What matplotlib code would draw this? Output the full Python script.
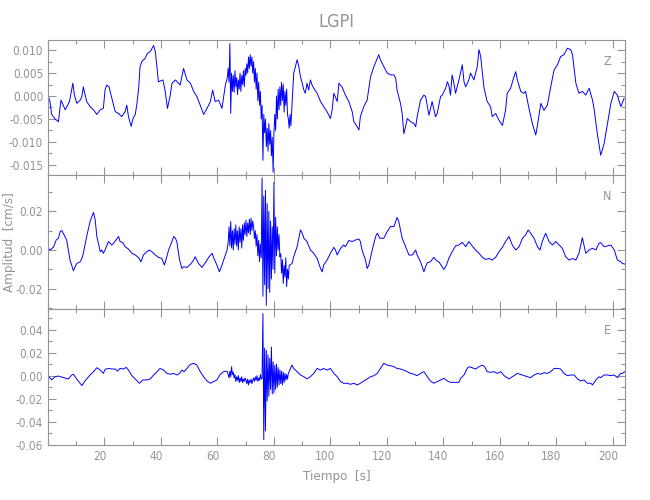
import numpy as np
import matplotlib
matplotlib.use('Agg')
import matplotlib.pyplot as plt
from matplotlib.ticker import MultipleLocator, FormatStrFormatter
from matplotlib.transforms import ScaledTranslation

plt.rcParams['font.family'] = ['DejaVu Sans']
plt.rcParams['font.stretch'] = 'condensed'
plt.rcParams['axes.unicode_minus'] = False

GREY = '#949494'
BURST_DT = 0.3

# ---------------------------------------------------------------- Z component
z_t = [0.0, 0.7, 1.3, 2.5, 3.7, 4.3, 4.6, 6.1, 7.6, 8.8, 9.35, 10.2, 11.4, 12.0, 12.5,
       13.7, 14.9, 16.1, 17.3, 18.5, 19.6, 20.2, 20.8, 21.6, 22.6, 23.8, 25.0, 26.1,
       27.3, 27.9, 28.5, 29.45, 30.1, 30.9, 31.5, 32.1, 32.6, 33.2, 34.4, 35.2, 36.2,
       37.4, 38.0, 38.5, 39.1, 40.7, 41.5, 42.3, 43.3, 43.9, 45.1, 46.8, 48.0, 49.2,
       50.4, 51.6, 52.7, 53.9, 55.1, 56.3, 57.5, 58.3, 59.2, 60.4, 61.6, 62.2, 62.8,
       86.6, 87.0, 87.6, 88.2, 88.8, 89.4, 90.0, 90.6, 91.1, 91.7, 92.3, 92.9, 93.5,
       94.1, 95.3, 96.5, 97.6, 98.8, 100.0, 100.6, 101.2, 102.4, 103.0, 104.1, 105.3,
       106.5, 107.7, 108.3, 109.5, 110.1, 110.6, 111.8, 113.0, 114.2, 115.4, 116.6,
       117.1, 117.7, 118.9, 120.1, 121.3, 122.5, 123.1, 123.6, 124.8, 125.4, 126.0,
       126.6, 127.2, 128.4, 129.6, 130.2, 130.7, 131.9, 133.1, 133.7, 134.9, 136.0,
       137.2, 137.8, 139.0, 139.6, 140.8, 141.4, 141.9, 142.5, 143.1, 143.7, 144.3,
       145.5, 146.7, 147.3, 147.9, 149.0, 149.6, 150.8, 151.4, 152.0, 152.6, 153.2,
       153.8, 154.4, 155.5, 156.7, 157.3, 158.5, 159.7, 160.9, 162.0, 162.6, 163.8,
       165.0, 165.6, 166.2, 167.4, 168.5, 169.1, 170.3, 171.5, 172.7, 173.3, 174.5,
       175.6, 176.8, 178.0, 179.2, 180.4, 181.5, 182.7, 183.9, 185.1, 185.7, 186.9,
       188.0, 189.2, 190.4, 191.6, 192.8, 193.4, 194.5, 195.7, 196.9, 198.1, 199.3,
       200.5, 201.6, 202.8, 204.0]
z_v = [0.0002, -0.0012, -0.004, -0.005, -0.0056, -0.0023, -0.0009, -0.003, -0.0012,
       0.0028, 0.0002, -0.0016, -0.0009, -0.0001, 0.002, -0.0012, -0.0023, -0.003,
       -0.004, -0.003, -0.0027, 0.0013, 0.0024, 0.002, -0.0005, -0.0034, -0.0038,
       -0.0045, -0.0034, -0.002, -0.0045, -0.0066, -0.0049, -0.004, -0.0016, 0.0017,
       0.0064, 0.0075, 0.0082, 0.0093, 0.0097, 0.011, 0.0097, 0.0068, 0.0031, 0.0035,
       0.001, -0.0027, 0.0002, 0.0028, 0.0035, 0.0024, 0.006, 0.0035, 0.0028, 0.001,
       -0.0001, -0.002, -0.004, -0.0027, -0.0012, 0.0013, -0.0012, -0.0009, -0.0027,
       -0.0001, 0.0024,
       0.0006, 0.005, 0.0064, 0.0079, 0.0064, 0.0042, 0.0028, 0.0013, 0.0006, 0.0028,
       0.0013, 0.0035, 0.0024, 0.0017, 0.0006, -0.0012, -0.0023, -0.0034, -0.0049,
       -0.0031, 0.0006, -0.0012, 0.0028, 0.002, 0.0002, -0.0012, -0.0034, -0.0056,
       -0.0067, -0.0074, -0.0045, -0.0023, -0.0009, 0.0042, 0.0064, 0.0082, 0.009,
       0.0079, 0.0064, 0.005, 0.0046, 0.0046, 0.0039, 0.0013, -0.0016, -0.0038,
       -0.0082, -0.0067, -0.0049, -0.0056, -0.006, -0.0067, -0.0045, -0.0009, 0.0002,
       -0.0001, -0.0042, -0.0012, -0.0045, -0.0038, -0.0001, 0.0002, 0.0017, 0.0031,
       0.0024, 0.0002, 0.0046, 0.0028, 0.0006, 0.0035, 0.0068, 0.0031, 0.002, 0.0035,
       0.005, 0.0035, 0.005, 0.0064, 0.0101, 0.0086, 0.005, 0.0017, -0.0012, -0.0023,
       -0.0045, -0.0038, -0.0053, -0.0064, -0.0031, 0.0006, 0.0017, 0.0042, 0.0053,
       0.0035, 0.001, 0.0006, 0.001, -0.0027, -0.006, -0.0085, -0.0064, -0.0016,
       -0.0031, -0.002, 0.002, 0.0057, 0.0068, 0.0086, 0.009, 0.0104, 0.0101, 0.009,
       0.0028, 0.0006, 0.001, 0.0002, 0.0017, -0.0009, -0.003, -0.0082, -0.0129,
       -0.0104, -0.006, -0.0016, 0.001, 0.0002, -0.0023, -0.0005]
z_burst_t0 = 63.5
z_burst = [0.004, 0.006, 0.003, 0.0114, -0.0038,
           0.005, 0.001, 0.0045, 0.0008, 0.0055, 0.002, 0.004, 0.0003, 0.0035, 0.0015,
           0.005, 0.001, 0.0045, 0.0025, 0.0055, 0.002, 0.006,
           0.0045, 0.007, 0.005, 0.0085, 0.006, 0.009, 0.0065, 0.0085, 0.005, 0.0075,
           0.003, 0.006, 0.0015, 0.005, -0.001, 0.003,
           -0.002, 0.001, -0.005, -0.002, -0.014, -0.004,
           -0.008, -0.005, -0.011, -0.007, -0.012, -0.006, -0.0105, -0.0075, -0.013,
           -0.009, -0.0166, -0.008,
           -0.004, -0.0075, 0.0, -0.005, 0.0015, -0.003,
           0.002, -0.002, 0.003, -0.001, 0.0025, -0.0035, 0.001, -0.002, 0.0015, -0.004,
           -0.005, -0.007, -0.004, -0.0065, -0.003]

# ---------------------------------------------------------------- N component
n_t = [0.0, 0.7, 1.9, 2.9, 3.7, 4.3, 4.9, 6.0, 6.6, 7.2, 7.8, 9.0, 9.6, 10.2, 11.4,
       12.0, 12.5, 13.7, 14.9, 16.1, 16.7, 17.3, 18.5, 19.0, 19.6, 20.2, 21.4, 22.0,
       22.6, 23.2, 24.1, 25.0, 25.5, 26.5, 27.3, 28.5, 29.7, 30.9, 32.0, 32.9, 33.8,
       35.0, 35.9, 36.8, 38.0, 39.1, 40.3, 41.2, 41.9, 42.7, 43.9, 44.5, 45.1, 45.6,
       46.6, 47.4, 48.0, 49.2, 50.4, 51.6, 52.1, 53.3, 54.5, 55.7, 56.9, 58.1, 58.6,
       59.8, 60.7, 61.6, 62.2, 62.8, 63.4,
       86.4, 87.0, 88.2, 89.4, 90.0, 90.6, 91.7, 92.9, 94.1, 95.3, 96.5, 97.1, 97.6,
       98.8, 100.0, 101.2, 101.8, 102.4, 103.6, 104.7, 105.3, 106.5, 107.7, 108.9,
       110.1, 110.6, 111.2, 112.4, 113.0, 113.6, 114.8, 116.0, 116.6, 117.5, 118.9,
       120.1, 121.3, 122.5, 123.6, 124.2, 125.4, 126.6, 127.8, 129.0, 130.2, 130.7,
       131.9, 132.5, 133.1, 133.7, 134.3, 135.4, 136.6, 137.6, 138.4, 139.6, 140.2,
       141.1, 141.9, 143.1, 144.3, 145.5, 146.7, 147.9, 149.0, 150.2, 151.4, 152.6,
       153.8, 154.9, 156.1, 157.3, 158.5, 159.7, 160.9, 162.0, 163.2, 164.4, 165.6,
       166.8, 168.0, 169.1, 170.0, 170.9, 172.1, 173.3, 174.2, 175.0, 176.2, 177.4,
       178.6, 179.8, 181.0, 182.1, 183.3, 184.5, 185.7, 186.9, 188.0, 189.2, 190.4,
       191.6, 192.8, 194.0, 195.1, 195.7, 196.9, 198.1, 199.3, 200.5, 201.6, 202.8,
       203.4, 204.2]
n_v = [0.0009, 0.0, 0.0014, 0.0052, 0.0061, 0.0096, 0.0101, 0.007, 0.0052, 0.0,
       -0.0052, -0.0108, -0.0087, -0.007, -0.0061, -0.0044, -0.0017, 0.007, 0.0148,
       0.0195, 0.0157, 0.007, -0.0009, 0.0, -0.0017, 0.0, 0.0044, 0.0035, 0.0026,
       0.0035, 0.0052, 0.007, 0.0044, 0.0038, 0.0017, 0.0005, -0.0017, -0.0026,
       -0.0038, -0.0061, -0.0026, -0.0009, 0.0, -0.0009, -0.0026, -0.0038, -0.0044,
       -0.0078, -0.0044, 0.0, 0.0044, 0.007, 0.0061, 0.0044, -0.0052, -0.0096, -0.0087,
       -0.009, -0.0075, -0.0052, -0.0035, -0.007, -0.009, -0.0066, -0.0038, -0.0017,
       -0.0038, -0.0078, -0.0113, -0.0078, -0.0052, -0.0026, 0.0,
       -0.007, -0.0035, 0.0017, 0.0104, 0.0087, 0.0061, 0.0044, 0.0, -0.0017, -0.0044,
       -0.0096, -0.0113, -0.0078, -0.0052, -0.0017, 0.0014, 0.0, -0.0026, 0.0009,
       0.0026, 0.0017, 0.0049, 0.0044, 0.0052, 0.0057, 0.0044, 0.0, -0.0052, -0.0096,
       -0.0078, 0.0, 0.007, 0.0087, 0.0061, 0.0061, 0.0096, 0.0122, 0.0122, 0.0169,
       0.0148, 0.0061, 0.0017, -0.0026, -0.0026, 0.0, -0.0026, -0.0061, -0.0087,
       -0.0113, -0.0087, -0.0066, -0.0061, -0.0038, -0.0056, -0.0061, -0.0087, -0.0101,
       -0.0078, -0.0044, -0.0009, 0.0021, 0.0026, 0.004, 0.0017, 0.0044, 0.0021, 0.0,
       -0.0017, -0.0038, -0.0049, -0.0044, -0.0052, -0.0038, -0.0009, 0.0014, 0.0044,
       0.007, 0.0026, 0.0, 0.0017, 0.0061, 0.0078, 0.0104, 0.0087, 0.0061, 0.0017, 0.0,
       0.0044, 0.0087, 0.0044, 0.0026, 0.0044, 0.0026, 0.0009, -0.0035, -0.0052,
       -0.0044, -0.0052, -0.0017, 0.0064, -0.0017, 0.0, 0.0009, 0.0, 0.0035, 0.0038,
       0.0017, 0.0021, 0.0026, 0.0, -0.0052, -0.0061, -0.007, -0.0073]
n_burst_t0 = 63.8
n_burst = [0.004, 0.012, 0.002, 0.0148, 0.001, 0.010,
           0.0, 0.011, 0.003, 0.013, 0.002, 0.010, 0.0, 0.012, 0.004, 0.011, 0.001,
           0.013, 0.005, 0.014,
           0.008, 0.0155, 0.007, 0.014, 0.009, 0.016, 0.008, 0.0165, 0.010, 0.015,
           0.012, 0.006, 0.010, 0.002, 0.008, -0.003, 0.005, -0.006, 0.003, -0.004,
           0.0374, -0.024,
           0.028, -0.018, 0.031, -0.0287, 0.024, -0.020, 0.020, -0.022,
           0.015, -0.015, 0.012, -0.010,
           0.035, -0.012,
           0.017, -0.003, 0.012, 0.0, 0.008, -0.0035,
           -0.002, -0.012, -0.005, -0.0174, -0.008, -0.014, -0.004, -0.019, -0.010,
           -0.015, -0.008]

# ---------------------------------------------------------------- E component
e_t = [0.0, 1.3, 2.5, 3.7, 5.5, 7.2, 8.4, 9.0, 10.4, 12.0, 13.1, 14.9, 16.1, 17.3,
       18.5, 19.6, 20.2, 21.4, 22.6, 23.8, 24.6, 25.5, 26.7, 27.7, 28.5, 29.7, 30.9,
       32.4, 33.6, 35.0, 36.2, 37.4, 38.6, 39.7, 40.9, 42.1, 43.3, 44.5, 45.6, 46.6,
       47.4, 48.2, 49.2, 50.4, 51.6, 52.7, 53.9, 55.1, 56.3, 57.5, 58.6, 59.8, 61.0,
       62.2, 63.4,
       86.4, 87.0, 88.2, 89.4, 90.6, 91.7, 92.9, 94.1, 95.3, 96.5, 97.6, 98.8, 100.0,
       101.2, 102.4, 103.6, 104.7, 105.9, 107.1, 108.3, 109.5, 110.6, 111.8, 113.0,
       114.2, 115.4, 116.6, 117.7, 118.9, 120.1, 121.3, 122.5, 123.6, 124.8, 126.0,
       127.2, 128.4, 129.6, 130.7, 131.9, 133.1, 134.3, 135.4, 136.6, 137.8, 139.0,
       140.2, 141.4, 142.5, 143.7, 145.5, 146.1, 147.3, 148.4, 149.0, 150.2, 151.4,
       152.6, 153.8, 154.6, 155.5, 156.7, 157.9, 159.1, 160.3, 161.5, 163.2, 164.4,
       166.2, 167.9, 169.7, 170.9, 172.1, 173.3, 174.5, 175.6, 176.8, 178.0, 179.2,
       180.4, 181.5, 182.7, 183.9, 185.1, 186.3, 187.5, 188.6, 189.8, 191.0, 192.2,
       192.8, 194.0, 195.1, 195.7, 196.9, 198.1, 199.3, 200.5, 201.6, 202.8, 203.4,
       204.2]
e_v = [0.0, -0.0037, -0.0009, -0.0003, -0.0017, -0.0029, 0.0006, 0.0012, -0.0037,
       -0.0086, -0.0046, 0.0006, 0.0035, 0.0069, 0.0049, 0.002, 0.0055, 0.0063, 0.0058,
       0.0058, 0.004, 0.0063, 0.0058, 0.0072, 0.0049, 0.0, -0.0029, -0.0066, -0.0037,
       -0.0037, -0.0029, 0.0006, 0.0035, 0.0063, 0.0049, 0.002, 0.0012, 0.002, 0.0006,
       0.002, 0.0049, 0.0035, 0.0063, 0.0098, 0.0107, 0.0092, 0.0035, -0.0009, -0.0046,
       -0.0066, -0.0052, -0.0037, 0.0012, 0.0035, 0.004,
       0.0092, 0.0063, 0.0035, 0.0006, -0.0009, -0.0029, -0.0009, 0.002, 0.0063,
       0.0049, 0.0063, 0.0049, 0.0063, 0.002, -0.0009, -0.0052, -0.0066, -0.0066,
       -0.0075, -0.0066, -0.0081, -0.0066, -0.0046, -0.0029, -0.0009, 0.0, 0.002,
       0.0063, 0.0107, 0.0092, 0.0086, 0.0078, 0.0063, 0.0058, 0.0049, 0.0035, 0.002,
       0.0012, 0.0, 0.002, 0.0035, -0.0009, -0.0046, -0.0066, -0.0052, -0.0037,
       -0.0023, -0.0046, -0.0058, -0.0058, -0.0058, -0.0023, 0.0006, 0.0063, 0.0078,
       0.0069, 0.0058, 0.0078, 0.0092, 0.0078, 0.0035, 0.0029, 0.0035, 0.002, 0.0035,
       0.0, -0.0029, -0.0009, 0.002, 0.0006, -0.0009, -0.0017, 0.0006, 0.002, 0.0012,
       0.0026, 0.002, 0.0035, 0.0063, 0.0063, 0.0058, 0.002, 0.0, 0.0006, 0.0006,
       -0.0029, -0.0046, -0.0037, -0.0066, -0.0066, -0.0081, -0.0037, -0.0009, -0.0017,
       0.0006, 0.0006, 0.0, 0.0006, -0.0017, 0.002, 0.002, 0.0035]
e_burst_t0 = 63.8
e_burst = [0.001, -0.002, 0.004, -0.001, 0.0078, 0.001, 0.003,
           -0.002, 0.001, -0.005, -0.001, -0.004, 0.0, -0.006, -0.002, -0.005, -0.001,
           -0.006, -0.003, -0.005, -0.002,
           -0.004, -0.007, -0.003, -0.008, -0.004, -0.006, -0.003, -0.007, -0.004,
           -0.002, -0.005, -0.001, -0.004, 0.0, -0.005, -0.002, -0.004, 0.001, -0.003,
           -0.002,
           0.054, -0.0556, 0.024, -0.048,
           0.022, -0.022, 0.018, -0.018, 0.015, -0.012,
           0.025, -0.016,
           0.012, -0.015, 0.009, -0.012, 0.010, -0.010, 0.007, -0.008,
           0.005, -0.007, 0.004, -0.008, 0.003, -0.006, 0.002, -0.004,
           0.001, -0.003, 0.002]

channels = ['Z', 'N', 'E']
y_limits = [(-0.0172, 0.0122), (-0.0306, 0.0389), (-0.0603, 0.058)]
y_major = [0.005, 0.02, 0.02]
y_minor = [0.0025, 0.01, 0.01]
y_fmt = ['%.3f', '%.2f', '%.2f']
x_ticks = [20, 40, 60, 80, 100, 120, 140, 160, 180, 200]


def build_trace(t, v, t0, burst):
    # join the slow part and the dense burst part, sorted by time
    tb = t0 + BURST_DT * np.arange(len(burst))
    tt = np.concatenate([np.asarray(t), tb])
    vv = np.concatenate([np.asarray(v), np.asarray(burst)])
    order = np.argsort(tt)
    return tt[order], vv[order]


traces = [build_trace(z_t, z_v, z_burst_t0, z_burst),
          build_trace(n_t, n_v, n_burst_t0, n_burst),
          build_trace(e_t, e_v, e_burst_t0, e_burst)]

fig = plt.figure(figsize=(6.5, 5.0), dpi=100)

# panel boxes in pixels: (top, bottom)
left, right = 48, 625
rows = [(40, 175), (175, 309), (309, 445)]

axes = []
for i, (top, bottom) in enumerate(rows):
    ax = fig.add_axes([left / 650, 1 - bottom / 500, (right - left) / 650, (bottom - top) / 500])
    t, v = traces[i]
    ax.plot(t, v, color='#0000ff', linewidth=0.7)

    ax.set_xlim(0, 204.3)
    ax.set_ylim(*y_limits[i])
    ax.set_xticks(x_ticks)
    ax.xaxis.set_minor_locator(MultipleLocator(10))
    ax.yaxis.set_major_locator(MultipleLocator(y_major[i]))
    ax.yaxis.set_minor_locator(MultipleLocator(y_minor[i]))
    ax.yaxis.set_major_formatter(FormatStrFormatter(y_fmt[i]))

    ax.tick_params(which='both', direction='in', top=True, right=True,
                   colors=GREY, labelcolor=GREY, labelsize=8.5, width=0.8)
    ax.tick_params(which='major', length=6)
    ax.tick_params(which='minor', length=3)
    if i < 2:
        ax.tick_params(labelbottom=False)
    for s in ax.spines.values():
        s.set_color(GREY)
        s.set_linewidth(0.8)

    ax.text(0.969, 0.84, channels[i], transform=ax.transAxes, color=GREY,
            fontsize=9, ha='center', va='center')
    axes.append(ax)

# the x labels of the original sit a few pixels left of their ticks
shift = ScaledTranslation(-5 / 100, 0, fig.dpi_scale_trans)
for lab in axes[-1].get_xticklabels():
    lab.set_transform(lab.get_transform() + shift)

axes[-1].set_xlabel('Tiempo  [s]', color=GREY, fontsize=9.5, labelpad=5)
fig.text(336.5 / 650, 1 - 22 / 500, 'LGPI', color=GREY, fontsize=13, ha='center', va='center')
fig.text(10 / 650, 1 - 242 / 500, 'Amplitud  [cm/s]', color=GREY, fontsize=9.5,
         rotation=90, ha='center', va='center')

fig.savefig('out.png', dpi=100)
